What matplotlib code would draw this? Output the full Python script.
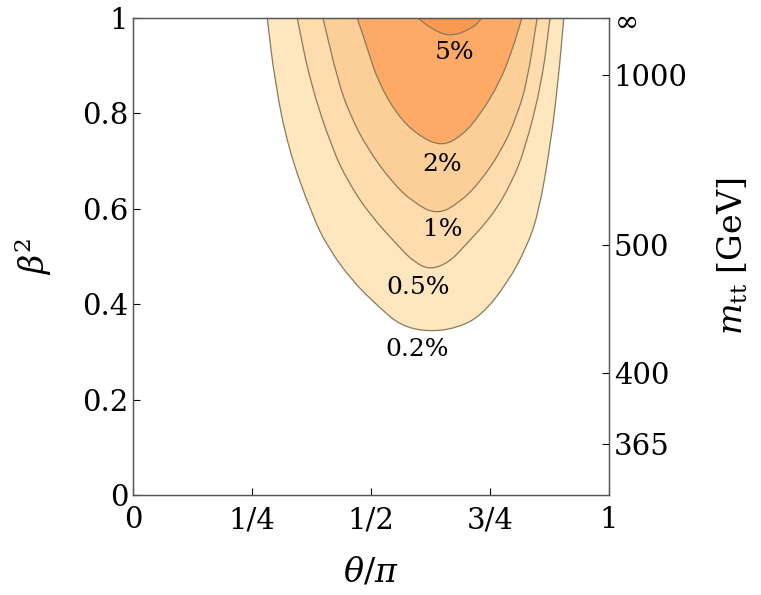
import numpy as np
import matplotlib
matplotlib.use("Agg")
import matplotlib.pyplot as plt
from matplotlib.path import Path
from matplotlib.patches import PathPatch

plt.rcParams['font.family'] = ['DejaVu Serif']
plt.rcParams['mathtext.fontset'] = 'dejavuserif'

# contour boundaries: theta/pi and beta^2 pairs
c02_x = [0.282, 0.298, 0.326, 0.376, 0.410, 0.462, 0.519, 0.561, 0.618,
         0.681, 0.733, 0.788, 0.826, 0.851, 0.876, 0.893, 0.905]
c02_y = [1.0, 0.866, 0.727, 0.587, 0.518, 0.447, 0.392, 0.356, 0.342,
         0.350, 0.377, 0.447, 0.518, 0.587, 0.727, 0.866, 1.0]

c05_x = [0.345, 0.372, 0.418, 0.452, 0.498, 0.561, 0.590, 0.624, 0.664,
         0.693, 0.756, 0.796, 0.824, 0.859, 0.876]
c05_y = [1.0, 0.866, 0.727, 0.656, 0.587, 0.518, 0.489, 0.472, 0.488,
         0.518, 0.587, 0.656, 0.727, 0.866, 1.0]

c1_x = [0.399, 0.431, 0.456, 0.492, 0.544, 0.588, 0.639, 0.687, 0.729,
        0.777, 0.807, 0.828, 0.849]
c1_y = [1.0, 0.866, 0.797, 0.727, 0.656, 0.614, 0.587, 0.614, 0.656,
        0.727, 0.797, 0.866, 1.0]

c2_x = [0.471, 0.492, 0.515, 0.555, 0.597, 0.649, 0.693, 0.729, 0.771, 0.798, 0.817]
c2_y = [1.0, 0.937, 0.866, 0.797, 0.755, 0.730, 0.755, 0.797, 0.866, 0.937, 1.0]

c5_x = [0.599, 0.624, 0.666, 0.714, 0.733]
c5_y = [1.0, 0.979, 0.960, 0.979, 1.0]

labels = ['0.2%', '0.5%', '1%', '2%', '5%']
label_x = [0.597, 0.599, 0.651, 0.649, 0.675]
label_y = [0.306, 0.436, 0.556, 0.692, 0.927]

m_ticks = [365, 400, 500, 1000]
m_top = 172.5

colors = ['#fee6bf', '#fedcae', '#fdcf98', '#fcaa66', '#fb9a4e']
line_col = '#8a7a5a'


def smooth_path(xs, ys):
    # quadratic bezier through the midpoints, read points act as controls
    pts = np.column_stack([xs, ys])
    verts = [pts[0], (pts[0] + pts[1]) / 2]
    codes = [Path.MOVETO, Path.LINETO]
    for i in range(1, len(pts) - 1):
        verts += [pts[i], (pts[i] + pts[i + 1]) / 2]
        codes += [Path.CURVE3, Path.CURVE3]
    verts.append(pts[-1])
    codes.append(Path.LINETO)
    return Path(verts, codes)


fig = plt.figure(figsize=(7.61, 5.95), dpi=100)
ax = fig.add_axes([0.1748, 0.168, 0.6255, 0.8017])

curves = [(c02_x, c02_y), (c05_x, c05_y), (c1_x, c1_y), (c2_x, c2_y), (c5_x, c5_y)]
for (cx, cy), col in zip(curves, colors):
    p = smooth_path(cx, cy)
    ax.add_patch(PathPatch(p, facecolor=col, edgecolor='none'))
    ax.add_patch(PathPatch(p, facecolor='none', edgecolor=line_col, lw=0.9))

for t, lx, ly in zip(labels, label_x, label_y):
    ax.text(lx, ly, t, ha='center', va='center', fontsize=18)

ax.set_xlim(0, 1)
ax.set_ylim(0, 1)
ax.set_xticks([0, 0.25, 0.5, 0.75, 1])
ax.set_xticklabels(['0', '1/4', '1/2', '3/4', '1'])
ax.set_yticks([0, 0.2, 0.4, 0.6, 0.8, 1])
ax.set_yticklabels(['0', '0.2', '0.4', '0.6', '0.8', '1'])
ax.tick_params(direction='in', labelsize=21, length=5, width=0.8, top=False)
ax.tick_params(axis='x', pad=8)
ax.set_xlabel(r'$\theta/\pi$', fontsize=24, labelpad=16)
ax.set_ylabel(r'$\beta^2$', fontsize=24, labelpad=20)

ax2 = ax.twinx()
ax2.set_ylim(0, 1)
pos = [1 - (2 * m_top / m) ** 2 for m in m_ticks] + [1.0]
ax2.set_yticks(pos)
ax2.set_yticklabels([str(m) for m in m_ticks] + [r'$\infty$'])
ax2.tick_params(direction='in', labelsize=21, length=5, width=0.8)
ax2.set_ylabel(r'$m_{\rm tt}$ [GeV]', fontsize=24, labelpad=20)

for a in (ax, ax2):
    for s in a.spines.values():
        s.set_color('#555555')
        s.set_linewidth(0.9)

fig.savefig('out.png', dpi=100)
